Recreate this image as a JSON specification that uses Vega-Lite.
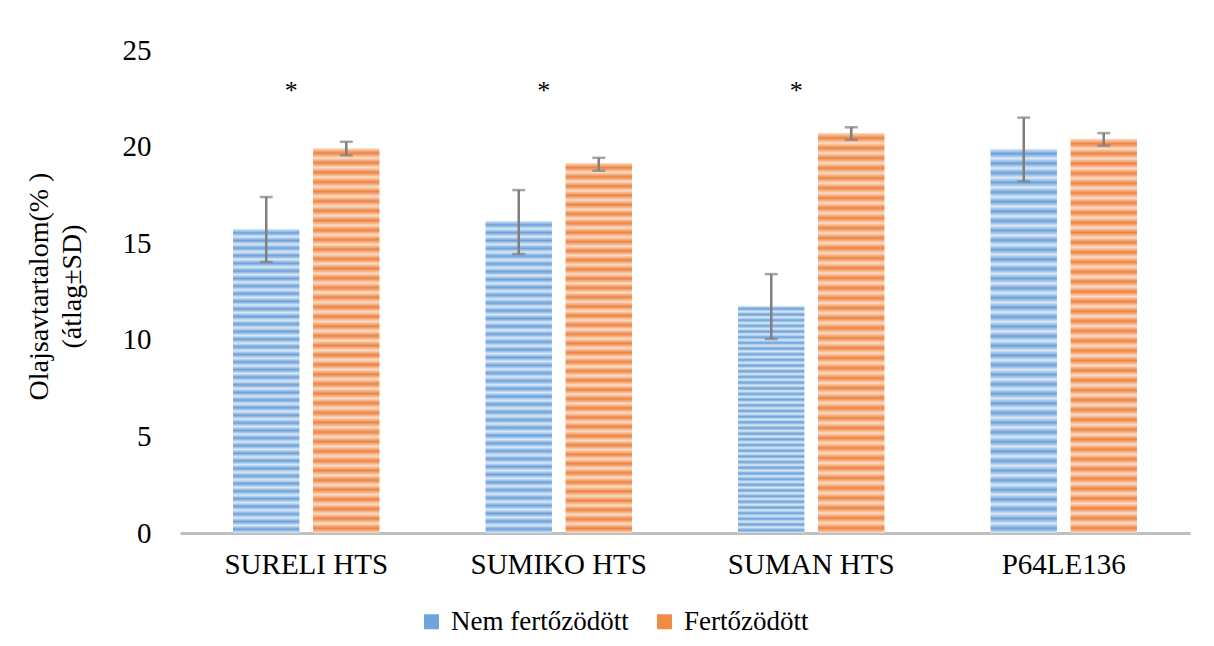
{
  "$schema": "https://vega.github.io/schema/vega-lite/v6.json",
  "width": 1010,
  "height": 483,
  "autosize": {"type": "none"},
  "padding": {"left": 180, "top": 50, "right": 24, "bottom": 113},
  "background": "white",
  "config": {
    "view": {"stroke": null},
    "font": "Liberation Serif"
  },
  "datasets": {
    "bars": [
      {"fajta": "SURELI HTS", "csoport": "Nem fertőzödött", "ertek": 15.73, "also": 14.03, "felso": 17.39},
      {"fajta": "SURELI HTS", "csoport": "Fertőzödött", "ertek": 19.91, "also": 19.55, "felso": 20.25},
      {"fajta": "SUMIKO HTS", "csoport": "Nem fertőzödött", "ertek": 16.15, "also": 14.44, "felso": 17.75},
      {"fajta": "SUMIKO HTS", "csoport": "Fertőzödött", "ertek": 19.15, "also": 18.75, "felso": 19.42},
      {"fajta": "SUMAN HTS", "csoport": "Nem fertőzödött", "ertek": 11.75, "also": 10.04, "felso": 13.4},
      {"fajta": "SUMAN HTS", "csoport": "Fertőzödött", "ertek": 20.7, "also": 20.35, "felso": 21.0},
      {"fajta": "P64LE136", "csoport": "Nem fertőzödött", "ertek": 19.88, "also": 18.2, "felso": 21.5},
      {"fajta": "P64LE136", "csoport": "Fertőzödött", "ertek": 20.4, "also": 20.05, "felso": 20.7}
    ],
    "stars": [
      {"fajta": "SURELI HTS", "y": 22.45, "jel": "*"},
      {"fajta": "SUMIKO HTS", "y": 22.45, "jel": "*"},
      {"fajta": "SUMAN HTS", "y": 22.45, "jel": "*"}
    ]
  },
  "encoding": {
    "x": {
      "field": "fajta",
      "type": "nominal",
      "sort": ["SURELI HTS", "SUMIKO HTS", "SUMAN HTS", "P64LE136"],
      "scale": {"paddingInner": 0.42, "paddingOuter": 0.21},
      "axis": {
        "title": null,
        "labelAngle": 0,
        "labelFont": "Liberation Serif",
        "labelFontSize": 29,
        "labelColor": "#000000",
        "labelPadding": 17,
        "ticks": false,
        "tickSize": 0,
        "domainColor": "#bfbfbf",
        "domainWidth": 3
      }
    }
  },
  "layer": [
    {
      "data": {"name": "bars"},
      "mark": {"type": "point", "shape": "square", "filled": true, "size": 150, "opacity": 1},
      "encoding": {
        "xOffset": {"field": "csoport", "type": "nominal", "sort": ["Nem fertőzödött", "Fertőzödött"], "scale": {"paddingInner": 0.17, "paddingOuter": 0}},
        "y": {"datum": 4, "type": "quantitative", "scale": {"domain": [0, 25], "nice": false}},
        "color": {
          "field": "csoport",
          "type": "nominal",
          "sort": ["Nem fertőzödött", "Fertőzödött"],
          "scale": {"domain": ["Nem fertőzödött", "Fertőzödött"], "range": ["#6fa5db", "#ef8a47"]},
          "legend": {
            "title": null,
            "orient": "none",
            "direction": "horizontal",
            "legendX": 238,
            "legendY": 558,
            "symbolType": "square",
            "symbolSize": 225,
            "symbolStrokeWidth": 0,
            "labelFont": "Liberation Serif",
            "labelFontSize": 27,
            "labelColor": "#000000",
            "labelLimit": 0,
            "labelOffset": 6,
            "columnPadding": 22
          }
        }
      }
    },
    {
      "data": {"name": "bars"},
      "transform": [{"filter": "datum.csoport === 'Nem fertőzödött'"}],
      "mark": {
        "type": "bar",
        "fill": {
          "gradient": "linear", "x1": 0, "y1": 0, "x2": 0, "y2": 1,
          "stops": [
            {"offset": 0, "color": "#dce9f7"}, {"offset": 0.0125, "color": "#6aa1d9"}, {"offset": 0.025, "color": "#dce9f7"}, {"offset": 0.0375, "color": "#6aa1d9"},
            {"offset": 0.05, "color": "#dce9f7"}, {"offset": 0.0625, "color": "#6aa1d9"}, {"offset": 0.075, "color": "#dce9f7"}, {"offset": 0.0875, "color": "#6aa1d9"},
            {"offset": 0.1, "color": "#dce9f7"}, {"offset": 0.1125, "color": "#6aa1d9"}, {"offset": 0.125, "color": "#dce9f7"}, {"offset": 0.1375, "color": "#6aa1d9"},
            {"offset": 0.15, "color": "#dce9f7"}, {"offset": 0.1625, "color": "#6aa1d9"}, {"offset": 0.175, "color": "#dce9f7"}, {"offset": 0.1875, "color": "#6aa1d9"},
            {"offset": 0.2, "color": "#dce9f7"}, {"offset": 0.2125, "color": "#6aa1d9"}, {"offset": 0.225, "color": "#dce9f7"}, {"offset": 0.2375, "color": "#6aa1d9"},
            {"offset": 0.25, "color": "#dce9f7"}, {"offset": 0.2625, "color": "#6aa1d9"}, {"offset": 0.275, "color": "#dce9f7"}, {"offset": 0.2875, "color": "#6aa1d9"},
            {"offset": 0.3, "color": "#dce9f7"}, {"offset": 0.3125, "color": "#6aa1d9"}, {"offset": 0.325, "color": "#dce9f7"}, {"offset": 0.3375, "color": "#6aa1d9"},
            {"offset": 0.35, "color": "#dce9f7"}, {"offset": 0.3625, "color": "#6aa1d9"}, {"offset": 0.375, "color": "#dce9f7"}, {"offset": 0.3875, "color": "#6aa1d9"},
            {"offset": 0.4, "color": "#dce9f7"}, {"offset": 0.4125, "color": "#6aa1d9"}, {"offset": 0.425, "color": "#dce9f7"}, {"offset": 0.4375, "color": "#6aa1d9"},
            {"offset": 0.45, "color": "#dce9f7"}, {"offset": 0.4625, "color": "#6aa1d9"}, {"offset": 0.475, "color": "#dce9f7"}, {"offset": 0.4875, "color": "#6aa1d9"},
            {"offset": 0.5, "color": "#dce9f7"}, {"offset": 0.5125, "color": "#6aa1d9"}, {"offset": 0.525, "color": "#dce9f7"}, {"offset": 0.5375, "color": "#6aa1d9"},
            {"offset": 0.55, "color": "#dce9f7"}, {"offset": 0.5625, "color": "#6aa1d9"}, {"offset": 0.575, "color": "#dce9f7"}, {"offset": 0.5875, "color": "#6aa1d9"},
            {"offset": 0.6, "color": "#dce9f7"}, {"offset": 0.6125, "color": "#6aa1d9"}, {"offset": 0.625, "color": "#dce9f7"}, {"offset": 0.6375, "color": "#6aa1d9"},
            {"offset": 0.65, "color": "#dce9f7"}, {"offset": 0.6625, "color": "#6aa1d9"}, {"offset": 0.675, "color": "#dce9f7"}, {"offset": 0.6875, "color": "#6aa1d9"},
            {"offset": 0.7, "color": "#dce9f7"}, {"offset": 0.7125, "color": "#6aa1d9"}, {"offset": 0.725, "color": "#dce9f7"}, {"offset": 0.7375, "color": "#6aa1d9"},
            {"offset": 0.75, "color": "#dce9f7"}, {"offset": 0.7625, "color": "#6aa1d9"}, {"offset": 0.775, "color": "#dce9f7"}, {"offset": 0.7875, "color": "#6aa1d9"},
            {"offset": 0.8, "color": "#dce9f7"}, {"offset": 0.8125, "color": "#6aa1d9"}, {"offset": 0.825, "color": "#dce9f7"}, {"offset": 0.8375, "color": "#6aa1d9"},
            {"offset": 0.85, "color": "#dce9f7"}, {"offset": 0.8625, "color": "#6aa1d9"}, {"offset": 0.875, "color": "#dce9f7"}, {"offset": 0.8875, "color": "#6aa1d9"},
            {"offset": 0.9, "color": "#dce9f7"}, {"offset": 0.9125, "color": "#6aa1d9"}, {"offset": 0.925, "color": "#dce9f7"}, {"offset": 0.9375, "color": "#6aa1d9"},
            {"offset": 0.95, "color": "#dce9f7"}, {"offset": 0.9625, "color": "#6aa1d9"}, {"offset": 0.975, "color": "#dce9f7"}, {"offset": 0.9875, "color": "#6aa1d9"},
            {"offset": 1, "color": "#dce9f7"}
          ]
        }
      },
      "encoding": {
        "xOffset": {"field": "csoport", "type": "nominal", "sort": ["Nem fertőzödött", "Fertőzödött"], "scale": {"paddingInner": 0.17, "paddingOuter": 0}},
        "y": {
          "field": "ertek",
          "type": "quantitative",
          "scale": {"domain": [0, 25], "nice": false},
          "axis": {
            "values": [0, 5, 10, 15, 20, 25],
            "grid": false,
            "domain": false,
            "ticks": false,
            "tickSize": 0,
            "labelFont": "Liberation Serif",
            "labelFontSize": 29,
            "labelColor": "#000000",
            "labelPadding": 29,
            "title": ["Olajsavtartalom(% )", "(átlag±SD)"],
            "titleFont": "Liberation Serif",
            "titleFontSize": 28,
            "titleFontWeight": "normal",
            "titleColor": "#000000",
            "titleAngle": -90,
            "titleAlign": "center",
            "titleBaseline": "alphabetic",
            "titleLineHeight": 33,
            "titleX": -133,
            "titleY": 236
          }
        }
      }
    },
    {
      "data": {"name": "bars"},
      "transform": [{"filter": "datum.csoport === 'Fertőzödött'"}],
      "mark": {
        "type": "bar",
        "fill": {
          "gradient": "linear", "x1": 0, "y1": 0, "x2": 0, "y2": 1,
          "stops": [
            {"offset": 0, "color": "#fbdcc6"}, {"offset": 0.0125, "color": "#ee8340"}, {"offset": 0.025, "color": "#fbdcc6"}, {"offset": 0.0375, "color": "#ee8340"},
            {"offset": 0.05, "color": "#fbdcc6"}, {"offset": 0.0625, "color": "#ee8340"}, {"offset": 0.075, "color": "#fbdcc6"}, {"offset": 0.0875, "color": "#ee8340"},
            {"offset": 0.1, "color": "#fbdcc6"}, {"offset": 0.1125, "color": "#ee8340"}, {"offset": 0.125, "color": "#fbdcc6"}, {"offset": 0.1375, "color": "#ee8340"},
            {"offset": 0.15, "color": "#fbdcc6"}, {"offset": 0.1625, "color": "#ee8340"}, {"offset": 0.175, "color": "#fbdcc6"}, {"offset": 0.1875, "color": "#ee8340"},
            {"offset": 0.2, "color": "#fbdcc6"}, {"offset": 0.2125, "color": "#ee8340"}, {"offset": 0.225, "color": "#fbdcc6"}, {"offset": 0.2375, "color": "#ee8340"},
            {"offset": 0.25, "color": "#fbdcc6"}, {"offset": 0.2625, "color": "#ee8340"}, {"offset": 0.275, "color": "#fbdcc6"}, {"offset": 0.2875, "color": "#ee8340"},
            {"offset": 0.3, "color": "#fbdcc6"}, {"offset": 0.3125, "color": "#ee8340"}, {"offset": 0.325, "color": "#fbdcc6"}, {"offset": 0.3375, "color": "#ee8340"},
            {"offset": 0.35, "color": "#fbdcc6"}, {"offset": 0.3625, "color": "#ee8340"}, {"offset": 0.375, "color": "#fbdcc6"}, {"offset": 0.3875, "color": "#ee8340"},
            {"offset": 0.4, "color": "#fbdcc6"}, {"offset": 0.4125, "color": "#ee8340"}, {"offset": 0.425, "color": "#fbdcc6"}, {"offset": 0.4375, "color": "#ee8340"},
            {"offset": 0.45, "color": "#fbdcc6"}, {"offset": 0.4625, "color": "#ee8340"}, {"offset": 0.475, "color": "#fbdcc6"}, {"offset": 0.4875, "color": "#ee8340"},
            {"offset": 0.5, "color": "#fbdcc6"}, {"offset": 0.5125, "color": "#ee8340"}, {"offset": 0.525, "color": "#fbdcc6"}, {"offset": 0.5375, "color": "#ee8340"},
            {"offset": 0.55, "color": "#fbdcc6"}, {"offset": 0.5625, "color": "#ee8340"}, {"offset": 0.575, "color": "#fbdcc6"}, {"offset": 0.5875, "color": "#ee8340"},
            {"offset": 0.6, "color": "#fbdcc6"}, {"offset": 0.6125, "color": "#ee8340"}, {"offset": 0.625, "color": "#fbdcc6"}, {"offset": 0.6375, "color": "#ee8340"},
            {"offset": 0.65, "color": "#fbdcc6"}, {"offset": 0.6625, "color": "#ee8340"}, {"offset": 0.675, "color": "#fbdcc6"}, {"offset": 0.6875, "color": "#ee8340"},
            {"offset": 0.7, "color": "#fbdcc6"}, {"offset": 0.7125, "color": "#ee8340"}, {"offset": 0.725, "color": "#fbdcc6"}, {"offset": 0.7375, "color": "#ee8340"},
            {"offset": 0.75, "color": "#fbdcc6"}, {"offset": 0.7625, "color": "#ee8340"}, {"offset": 0.775, "color": "#fbdcc6"}, {"offset": 0.7875, "color": "#ee8340"},
            {"offset": 0.8, "color": "#fbdcc6"}, {"offset": 0.8125, "color": "#ee8340"}, {"offset": 0.825, "color": "#fbdcc6"}, {"offset": 0.8375, "color": "#ee8340"},
            {"offset": 0.85, "color": "#fbdcc6"}, {"offset": 0.8625, "color": "#ee8340"}, {"offset": 0.875, "color": "#fbdcc6"}, {"offset": 0.8875, "color": "#ee8340"},
            {"offset": 0.9, "color": "#fbdcc6"}, {"offset": 0.9125, "color": "#ee8340"}, {"offset": 0.925, "color": "#fbdcc6"}, {"offset": 0.9375, "color": "#ee8340"},
            {"offset": 0.95, "color": "#fbdcc6"}, {"offset": 0.9625, "color": "#ee8340"}, {"offset": 0.975, "color": "#fbdcc6"}, {"offset": 0.9875, "color": "#ee8340"},
            {"offset": 1, "color": "#fbdcc6"}
          ]
        }
      },
      "encoding": {
        "xOffset": {"field": "csoport", "type": "nominal", "sort": ["Nem fertőzödött", "Fertőzödött"], "scale": {"paddingInner": 0.17, "paddingOuter": 0}},
        "y": {"field": "ertek", "type": "quantitative", "scale": {"domain": [0, 25], "nice": false}}
      }
    },
    {
      "data": {"name": "bars"},
      "mark": {"type": "rule", "color": "#7f7f7f", "strokeWidth": 2.5},
      "encoding": {
        "xOffset": {"field": "csoport", "type": "nominal", "sort": ["Nem fertőzödött", "Fertőzödött"], "scale": {"paddingInner": 0.17, "paddingOuter": 0}},
        "y": {"field": "also", "type": "quantitative", "scale": {"domain": [0, 25], "nice": false}},
        "y2": {"field": "felso"}
      }
    },
    {
      "data": {"name": "bars"},
      "mark": {"type": "tick", "color": "#7f7f7f", "thickness": 2.5, "size": 13, "orient": "horizontal"},
      "encoding": {
        "xOffset": {"field": "csoport", "type": "nominal", "sort": ["Nem fertőzödött", "Fertőzödött"], "scale": {"paddingInner": 0.17, "paddingOuter": 0}},
        "y": {"field": "also", "type": "quantitative", "scale": {"domain": [0, 25], "nice": false}}
      }
    },
    {
      "data": {"name": "bars"},
      "mark": {"type": "tick", "color": "#7f7f7f", "thickness": 2.5, "size": 13, "orient": "horizontal"},
      "encoding": {
        "xOffset": {"field": "csoport", "type": "nominal", "sort": ["Nem fertőzödött", "Fertőzödött"], "scale": {"paddingInner": 0.17, "paddingOuter": 0}},
        "y": {"field": "felso", "type": "quantitative", "scale": {"domain": [0, 25], "nice": false}}
      }
    },
    {
      "data": {"name": "stars"},
      "mark": {"type": "text", "font": "Liberation Serif", "fontSize": 26, "color": "#000000", "dx": -15, "baseline": "alphabetic"},
      "encoding": {
        "y": {"field": "y", "type": "quantitative", "scale": {"domain": [0, 25], "nice": false}},
        "text": {"field": "jel"}
      }
    }
  ]
}
